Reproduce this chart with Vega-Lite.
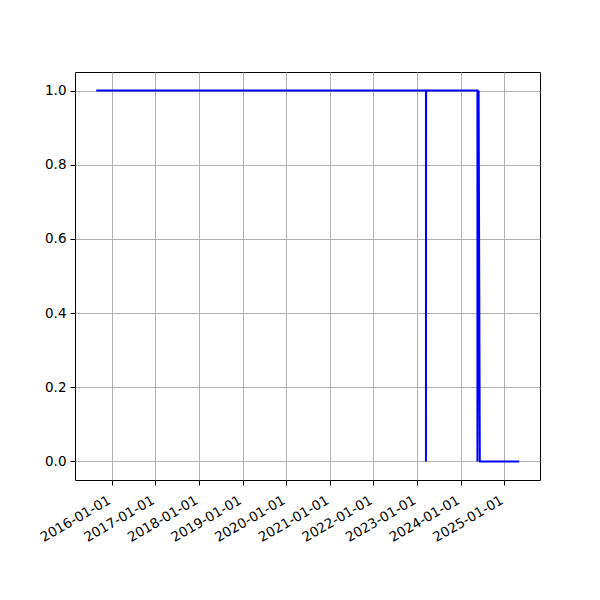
{
  "$schema": "https://vega.github.io/schema/vega-lite/v6.json",
  "autosize": "none",
  "width": 465,
  "height": 408,
  "padding": {"left": 75, "top": 72, "right": 60, "bottom": 120},
  "background": "white",
  "config": {
    "view": {"stroke": "black", "strokeWidth": 1},
    "axis": {
      "labelFont": "DejaVu Sans",
      "labelFontSize": 13.5,
      "labelColor": "black",
      "tickColor": "black",
      "tickSize": 5,
      "tickWidth": 1,
      "domain": false,
      "grid": true,
      "gridColor": "#b0b0b0",
      "gridWidth": 1,
      "labelPadding": 3,
      "title": null
    }
  },
  "data": {
    "values": [
      {"i": 0, "t": "2015-08-25", "v": 1},
      {"i": 1, "t": "2023-03-17", "v": 1},
      {"i": 2, "t": "2023-03-17", "v": 0},
      {"i": 3, "t": "2023-03-18", "v": 1},
      {"i": 4, "t": "2024-05-21", "v": 1},
      {"i": 5, "t": "2024-05-21", "v": 0},
      {"i": 6, "t": "2024-05-31", "v": 1},
      {"i": 7, "t": "2024-06-10", "v": 0},
      {"i": 8, "t": "2025-05-05", "v": 0}
    ]
  },
  "mark": {"type": "line", "color": "#0000ff", "strokeWidth": 2, "clip": true},
  "encoding": {
    "x": {
      "field": "t",
      "type": "temporal",
      "scale": {"type": "utc", "domain": ["2015-02-28", "2025-10-27"], "nice": false},
      "axis": {
        "format": "%Y-%m-%d",
        "tickCount": {"interval": "year", "step": 1},
        "labelAngle": -30,
        "labelAlign": "right",
        "labelBaseline": "top",
        "labelFlush": false,
        "labelOverlap": false,
        "labelOffset": -6,
        "labelPadding": 8
      }
    },
    "y": {
      "field": "v",
      "type": "quantitative",
      "scale": {"domain": [-0.05, 1.05], "nice": false, "zero": false},
      "axis": {"values": [0, 0.2, 0.4, 0.6, 0.8, 1.0], "format": ".1f", "labelPadding": 4}
    },
    "order": {"field": "i"}
  }
}
